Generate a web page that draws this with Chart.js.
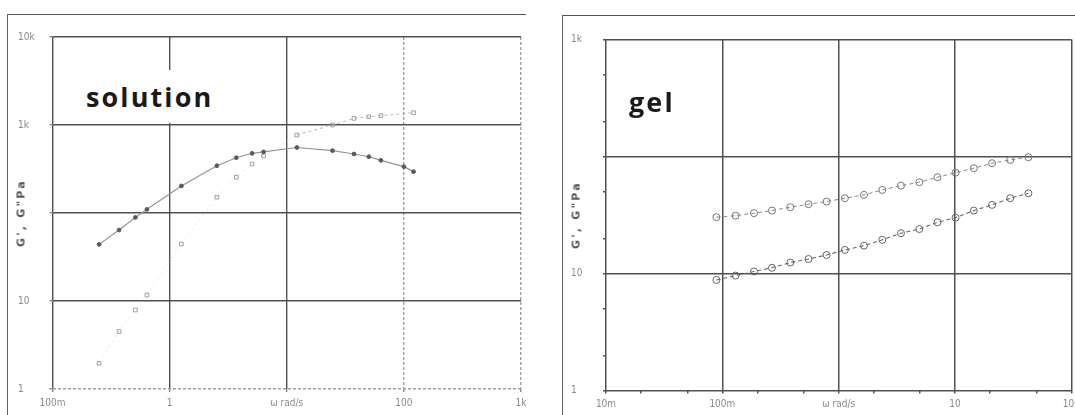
<!DOCTYPE html>
<html>
<head>
<meta charset="utf-8">
<script src="https://cdn.jsdelivr.net/npm/chart.js@4.4.1/dist/chart.umd.min.js"></script>
<style>
  html,body{margin:0;padding:0;background:#fff;}
  body{width:1075px;height:415px;position:relative;overflow:hidden;}
  .frame{position:absolute;border-top:1.5px solid #555;border-left:1.5px solid #666;box-sizing:border-box;}
  canvas{position:absolute;top:0;}
  .box{position:absolute;background:#fff;}
  .lbl{position:absolute;font-family:'Open Sans','Noto Sans',sans-serif;font-weight:700;font-size:27px;line-height:27px;letter-spacing:2.1px;color:#1a1a1a;white-space:nowrap;}
  .ytitle{position:absolute;transform:translate(-50%,-50%) rotate(-90deg);font-family:'DejaVu Sans',sans-serif;font-weight:700;font-size:11px;letter-spacing:2.2px;color:#555;white-space:nowrap;}
</style>
</head>
<body>
<div class="frame" style="left:7px;top:14px;width:519px;height:401px;"></div>
<div class="frame" style="left:562px;top:15px;width:513px;height:400px;"></div>
<canvas id="cL" width="540" height="415" style="left:0;"></canvas>
<canvas id="cR" width="545" height="415" style="left:540px;"></canvas>
<div class="box" style="left:80px;top:70px;width:136px;height:53px;"></div>
<div class="lbl" style="left:86px;top:83px;">solution</div>
<div class="lbl" style="left:629px;top:88px;">gel</div>
<div class="ytitle" style="left:21px;top:213px;">G', G"Pa</div>
<div class="ytitle" style="left:576px;top:215px;">G', G"Pa</div>
<script>
// ---------- data: solution panel ----------
const solFreq = [0.25, 0.37, 0.51, 0.64, 1.26, 2.53, 3.71, 5.06, 6.34, 12.2, 24.6, 37.5, 50.2, 63.6, 100, 121];
const solGpp  = [44, 64, 89, 110, 203, 345, 425, 477, 495, 555, 511, 468, 436, 397, 336, 295];
const solGp   = [1.96, 4.5, 7.9, 11.7, 44.5, 151, 255, 360, 445, 770, 1000, 1190, 1240, 1276, null, 1380];
const solXTicks = [0.1, 1, 10, 100, 1000];
const solXLabels = ['100m', '1', '', '100', '1k'];
const solYTicks = [1, 10, 100, 1000, 10000];
const solYLabels = ['1', '10', '', '1k', '10k'];

// ---------- data: gel panel ----------
const gelFreq = [0.0889, 0.130, 0.187, 0.267, 0.384, 0.550, 0.787, 1.13, 1.65, 2.37, 3.43, 4.93, 7.06, 10.1, 14.5, 20.8, 29.8, 42.7];
const gelGp   = [30.3, 31.2, 32.8, 34.5, 36.9, 39.1, 41.2, 44.0, 47.0, 51.8, 56.4, 60.3, 66.5, 72.8, 79.4, 87.6, 93.5, 98.6];
const gelGpp  = [8.8, 9.6, 10.4, 11.2, 12.4, 13.3, 14.4, 15.9, 17.3, 19.4, 22.1, 24.0, 27.4, 30.0, 34.5, 38.6, 44.0, 48.5];
const gelXTicks = [0.01, 0.02, 0.05, 0.1, 0.2, 0.5, 1, 2, 5, 10, 20, 50, 100];
const gelXLabels = ['10m', '', '', '100m', '', '', '', '', '', '10', '', '', '100'];
const gelYTicks = [1, 2, 5, 10, 20, 50, 100, 200, 500, 1000];
const gelYLabels = ['1', '', '', '10', '', '', '', '', '', '1k'];

const tickFont = {family: "'Liberation Sans Narrow','DejaVu Sans Condensed','DejaVu Sans',sans-serif", size: 10};
const tickColor = '#8a8a8a';
const gridDark = '#505050';
const gridLight = '#a0a0a0';

function pts(xs, ys){ return xs.map((x,i)=>({x:x, y:ys[i]})); }
function isDecade(v){ const l = Math.log10(v); return Math.abs(l - Math.round(l)) < 1e-6; }
function setTicks(vals){ return s => { s.ticks = vals.map(v => ({value: v})); }; }
function labeler(vals, labels){ return (v) => { const i = vals.findIndex(t => Math.abs(t - v) / t < 1e-6); return i >= 0 ? labels[i] : ''; }; }

// ---------- left chart: solution ----------
new Chart(document.getElementById('cL'), {
  type: 'scatter',
  data: {
    datasets: [
      {
        label: "G''", data: pts(solFreq, solGpp), showLine: true, spanGaps: true,
        borderColor: '#959595', borderWidth: 1.2,
        pointStyle: 'circle', pointRadius: 1.9, pointBackgroundColor: '#5a5a5a', pointBorderColor: '#5a5a5a', pointBorderWidth: 1
      },
      {
        label: "G'", data: pts(solFreq, solGp), showLine: true, spanGaps: true,
        borderColor: '#c4c4c4', borderWidth: 1, borderDash: [3, 3],
        segment: {borderColor: c => c.p0.parsed.x < 10 ? '#ececec' : '#b8b8b8'},
        pointStyle: 'rect', pointRadius: 2.6, pointBackgroundColor: 'rgba(255,255,255,0)', pointBorderColor: '#a0a0a0', pointBorderWidth: 1
      }
    ]
  },
  options: {
    responsive: false, animation: false, devicePixelRatio: 1,
    layout: {padding: {left: 18, right: 19, top: 37, bottom: 0}},
    plugins: {legend: {display: false}, tooltip: {enabled: false}},
    scales: {
      x: {
        type: 'logarithmic', min: 0.1, max: 1000,
        afterBuildTicks: setTicks(solXTicks),
        afterFit: s => { s.height = 26; },
        ticks: {callback: labeler(solXTicks, solXLabels), autoSkip: false, maxRotation: 0, minRotation: 0, padding: 5, font: tickFont, color: tickColor},
        grid: {
          color: c => (c.tick && c.tick.value >= 100) ? gridLight : gridDark,
          lineWidth: 1.4, tickLength: 3, tickColor: '#888'
        },
        border: {display: false, dash: c => (c.tick && c.tick.value >= 100) ? [3, 2] : []},
        title: {display: true, text: 'ω rad/s', color: tickColor, font: tickFont, padding: {top: 0, bottom: 6}}
      },
      y: {
        type: 'logarithmic', min: 1, max: 10000,
        afterBuildTicks: setTicks(solYTicks),
        afterFit: s => { s.width = 34.5; },
        ticks: {callback: labeler(solYTicks, solYLabels), autoSkip: false, crossAlign: 'far', font: tickFont, color: tickColor},
        grid: {
          color: c => (c.tick && c.tick.value === 1) ? gridLight : gridDark,
          lineWidth: 1.4, tickLength: 3, tickColor: '#888'
        },
        border: {display: false, dash: c => (c.tick && c.tick.value === 1) ? [3, 2] : []}
      }
    }
  }
});

// ---------- right chart: gel ----------
new Chart(document.getElementById('cR'), {
  type: 'scatter',
  data: {
    datasets: [
      {
        label: "G'", data: pts(gelFreq, gelGp), showLine: true,
        borderColor: '#8a8a8a', borderWidth: 1, borderDash: [4, 3],
        pointStyle: 'circle', pointRadius: 3.5, pointBackgroundColor: 'rgba(255,255,255,0)', pointBorderColor: '#777', pointBorderWidth: 1
      },
      {
        label: "G''", data: pts(gelFreq, gelGpp), showLine: true,
        borderColor: '#666', borderWidth: 1.1, borderDash: [4, 3],
        pointStyle: 'circle', pointRadius: 3.5, pointBackgroundColor: 'rgba(255,255,255,0)', pointBorderColor: '#666', pointBorderWidth: 1
      }
    ]
  },
  options: {
    responsive: false, animation: false, devicePixelRatio: 1,
    layout: {padding: {left: 31, right: 10, top: 39.5, bottom: 0}},
    plugins: {legend: {display: false}, tooltip: {enabled: false}},
    scales: {
      x: {
        type: 'logarithmic', min: 0.01, max: 100,
        afterBuildTicks: setTicks(gelXTicks),
        afterFit: s => { s.height = 24.5; },
        ticks: {callback: labeler(gelXTicks, gelXLabels), autoSkip: false, maxRotation: 0, minRotation: 0, padding: 5, font: tickFont, color: tickColor},
        grid: {
          color: c => (c.tick && isDecade(c.tick.value)) ? gridDark : 'rgba(0,0,0,0)',
          lineWidth: 1.5, tickLength: 3, tickColor: '#555'
        },
        border: {display: false},
        title: {display: true, text: 'ω rad/s', color: tickColor, font: tickFont, padding: {top: 0, bottom: 5}}
      },
      y: {
        type: 'logarithmic', min: 1, max: 1000,
        afterBuildTicks: setTicks(gelYTicks),
        afterFit: s => { s.width = 35; },
        ticks: {callback: labeler(gelYTicks, gelYLabels), autoSkip: false, crossAlign: 'far', font: tickFont, color: tickColor},
        grid: {
          color: c => (c.tick && isDecade(c.tick.value)) ? gridDark : 'rgba(0,0,0,0)',
          lineWidth: 1.5, tickLength: 3, tickColor: '#555'
        },
        border: {display: false}
      }
    }
  }
});
</script>
</body>
</html>
